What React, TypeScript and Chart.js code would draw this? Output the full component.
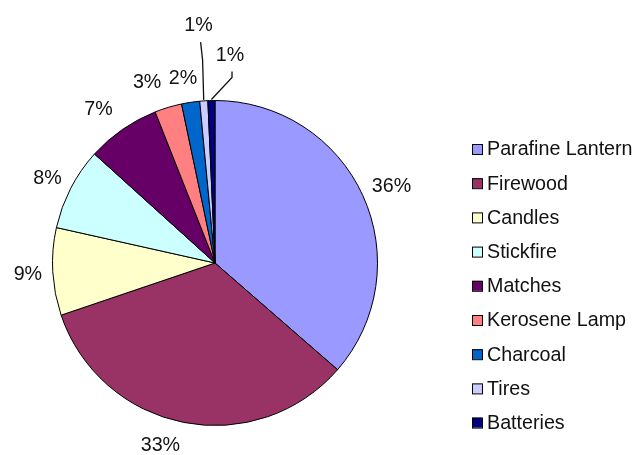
import React, { useEffect, useRef } from "react";
import { Chart, registerables } from "chart.js";

Chart.register(...registerables);

const categories = [
  "Parafine Lantern",
  "Firewood",
  "Candles",
  "Stickfire",
  "Matches",
  "Kerosene Lamp",
  "Charcoal",
  "Tires",
  "Batteries",
];
const shares = [36.4, 33.4, 8.7, 8.2, 7.3, 2.7, 1.8, 0.8, 0.7];
const colors = [
  "#9999FF",
  "#993366",
  "#FFFFCC",
  "#CCFFFF",
  "#660066",
  "#FF8080",
  "#0066CC",
  "#CCCCFF",
  "#000080",
];

// label placement tweaks (degrees shift, pixel gap beyond the rim)
const labelShift = [1, 5.5, -0.6, -0.6, -2.5, -3.9, -1.2, 0, 5.4];
const labelGap = [30, 28, 25, 25, 30, 30, 25, 75, 45.5];
const leaderElbow: (null | [number, number])[] = [null, null, null, null, null, null, null, [4, 34], [2, 22]];

const FONT = "19.7px 'Liberation Sans', Arial, sans-serif";

const labelPlugin = {
  id: "pieLabels",
  afterDraw(chart: any) {
    const ctx = chart.ctx;
    const meta = chart.getDatasetMeta(0);
    const total = shares.reduce((a, b) => a + b, 0);
    ctx.save();
    ctx.font = FONT;
    ctx.fillStyle = "#111";
    ctx.textAlign = "center";
    ctx.textBaseline = "middle";
    meta.data.forEach((arc: any, i: number) => {
      const p = arc.getProps(["x", "y", "startAngle", "endAngle", "outerRadius"], true);
      const mid = (p.startAngle + p.endAngle) / 2 + (labelShift[i] * Math.PI) / 180;
      const d = p.outerRadius + labelGap[i];
      const lx = p.x + Math.cos(mid) * d;
      const ly = p.y + Math.sin(mid) * d;
      const pct = Math.round((shares[i] / total) * 100) + "%";
      ctx.fillText(pct, lx, ly);
      const el = leaderElbow[i];
      if (el) {
        const m0 = (p.startAngle + p.endAngle) / 2;
        const ex = p.x + Math.cos(m0) * (p.outerRadius + 1);
        const ey = p.y + Math.sin(m0) * (p.outerRadius + 1);
        ctx.strokeStyle = "#111";
        ctx.lineWidth = 1.3;
        ctx.beginPath();
        ctx.moveTo(lx + 2, ly + 16);
        ctx.lineTo(lx + el[0], ly + el[1]);
        ctx.lineTo(ex, ey);
        ctx.stroke();
      }
    });

    // legend
    const boxX = 472;
    const textX = 487;
    const y0 = 149;
    const step = 34.2;
    ctx.textAlign = "left";
    categories.forEach((name, i) => {
      const cy = y0 + i * step;
      ctx.fillStyle = colors[i];
      ctx.fillRect(boxX, cy - 5, 10, 10);
      ctx.strokeStyle = "#000";
      ctx.lineWidth = 1;
      ctx.strokeRect(boxX + 0.5, cy - 4.5, 10, 10);
      ctx.fillStyle = "#111";
      ctx.fillText(name, textX, cy + 1);
    });
    ctx.restore();
  },
};

export default function App() {
  const ref = useRef<HTMLCanvasElement>(null);
  useEffect(() => {
    if (!ref.current) return;
    const chart = new Chart(ref.current, {
      type: "pie",
      data: {
        labels: categories,
        datasets: [
          {
            data: shares,
            backgroundColor: colors,
            borderColor: "#000",
            borderWidth: 1,
          },
        ],
      },
      options: {
        responsive: false,
        animation: false,
        devicePixelRatio: 1,
        layout: { padding: { left: 52, top: 100, right: 256, bottom: 29 } },
        plugins: {
          legend: { display: false },
          tooltip: { enabled: false },
        },
      },
      plugins: [labelPlugin],
    });
    return () => chart.destroy();
  }, []);
  return (
    <div style={{ position: "absolute", left: 0, top: 0, width: 634, height: 455, background: "#fff" }}>
      <canvas ref={ref} width={634} height={455} />
    </div>
  );
}
